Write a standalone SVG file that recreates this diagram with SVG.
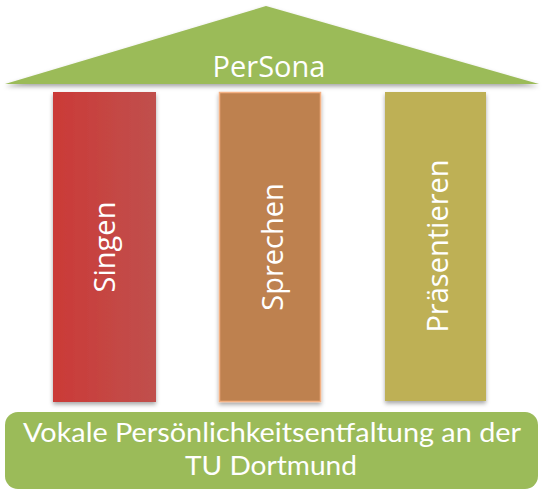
<svg xmlns="http://www.w3.org/2000/svg" width="543" height="494" viewBox="0 0 543 494">
<style>
.lbl{font-family:"Open Sans","Liberation Sans",sans-serif;fill:#fff;text-anchor:middle}
.bt{font-family:Lato,"Open Sans",sans-serif;fill:#fff;text-anchor:middle;font-size:26.5px}
</style>
<defs>
<filter id="sh" x="-10%" y="-10%" width="120%" height="130%">
<feDropShadow dx="0" dy="2.5" stdDeviation="2" flood-color="#000" flood-opacity="0.35"/>
</filter>
<linearGradient id="gr" x1="0" y1="0" x2="1" y2="0">
<stop offset="0" stop-color="#CB3A37"/>
<stop offset="1" stop-color="#C0504D"/>
</linearGradient>
</defs>
<rect width="543" height="494" fill="#fff"/>
<g id="roof">
<polygon points="266,6 5,84 539,84" fill="#9BBB59" filter="url(#sh)"/>
<text class="lbl" x="269" y="77" font-size="29">PerSona</text>
</g>
<g id="singen">
<rect x="53" y="92" width="103" height="310" fill="url(#gr)" filter="url(#sh)"/>
<text class="lbl" transform="translate(115,247) rotate(-90)" font-size="29">Singen</text>
</g>
<g id="sprechen">
<rect x="219.5" y="92.5" width="101" height="309" fill="#BE8150" stroke="#F4B183" stroke-width="1.5" filter="url(#sh)"/>
<text class="lbl" transform="translate(283,247) rotate(-90)" font-size="29">Sprechen</text>
</g>
<g id="praesentieren">
<rect x="385" y="92" width="101" height="309" fill="#BEB055" filter="url(#sh)"/>
<text class="lbl" transform="translate(448,246) rotate(-90)" font-size="29">Präsentieren</text>
</g>
<g id="base">
<rect x="5" y="412" width="533" height="77" rx="13" fill="#9BBB59"/>
<text class="bt" x="272" y="442" textLength="498" lengthAdjust="spacingAndGlyphs">Vokale Persönlichkeitsentfaltung an der</text>
<text class="bt" x="271" y="475" textLength="172" lengthAdjust="spacingAndGlyphs">TU Dortmund</text>
</g>
<g id="connectors"/>
</svg>
